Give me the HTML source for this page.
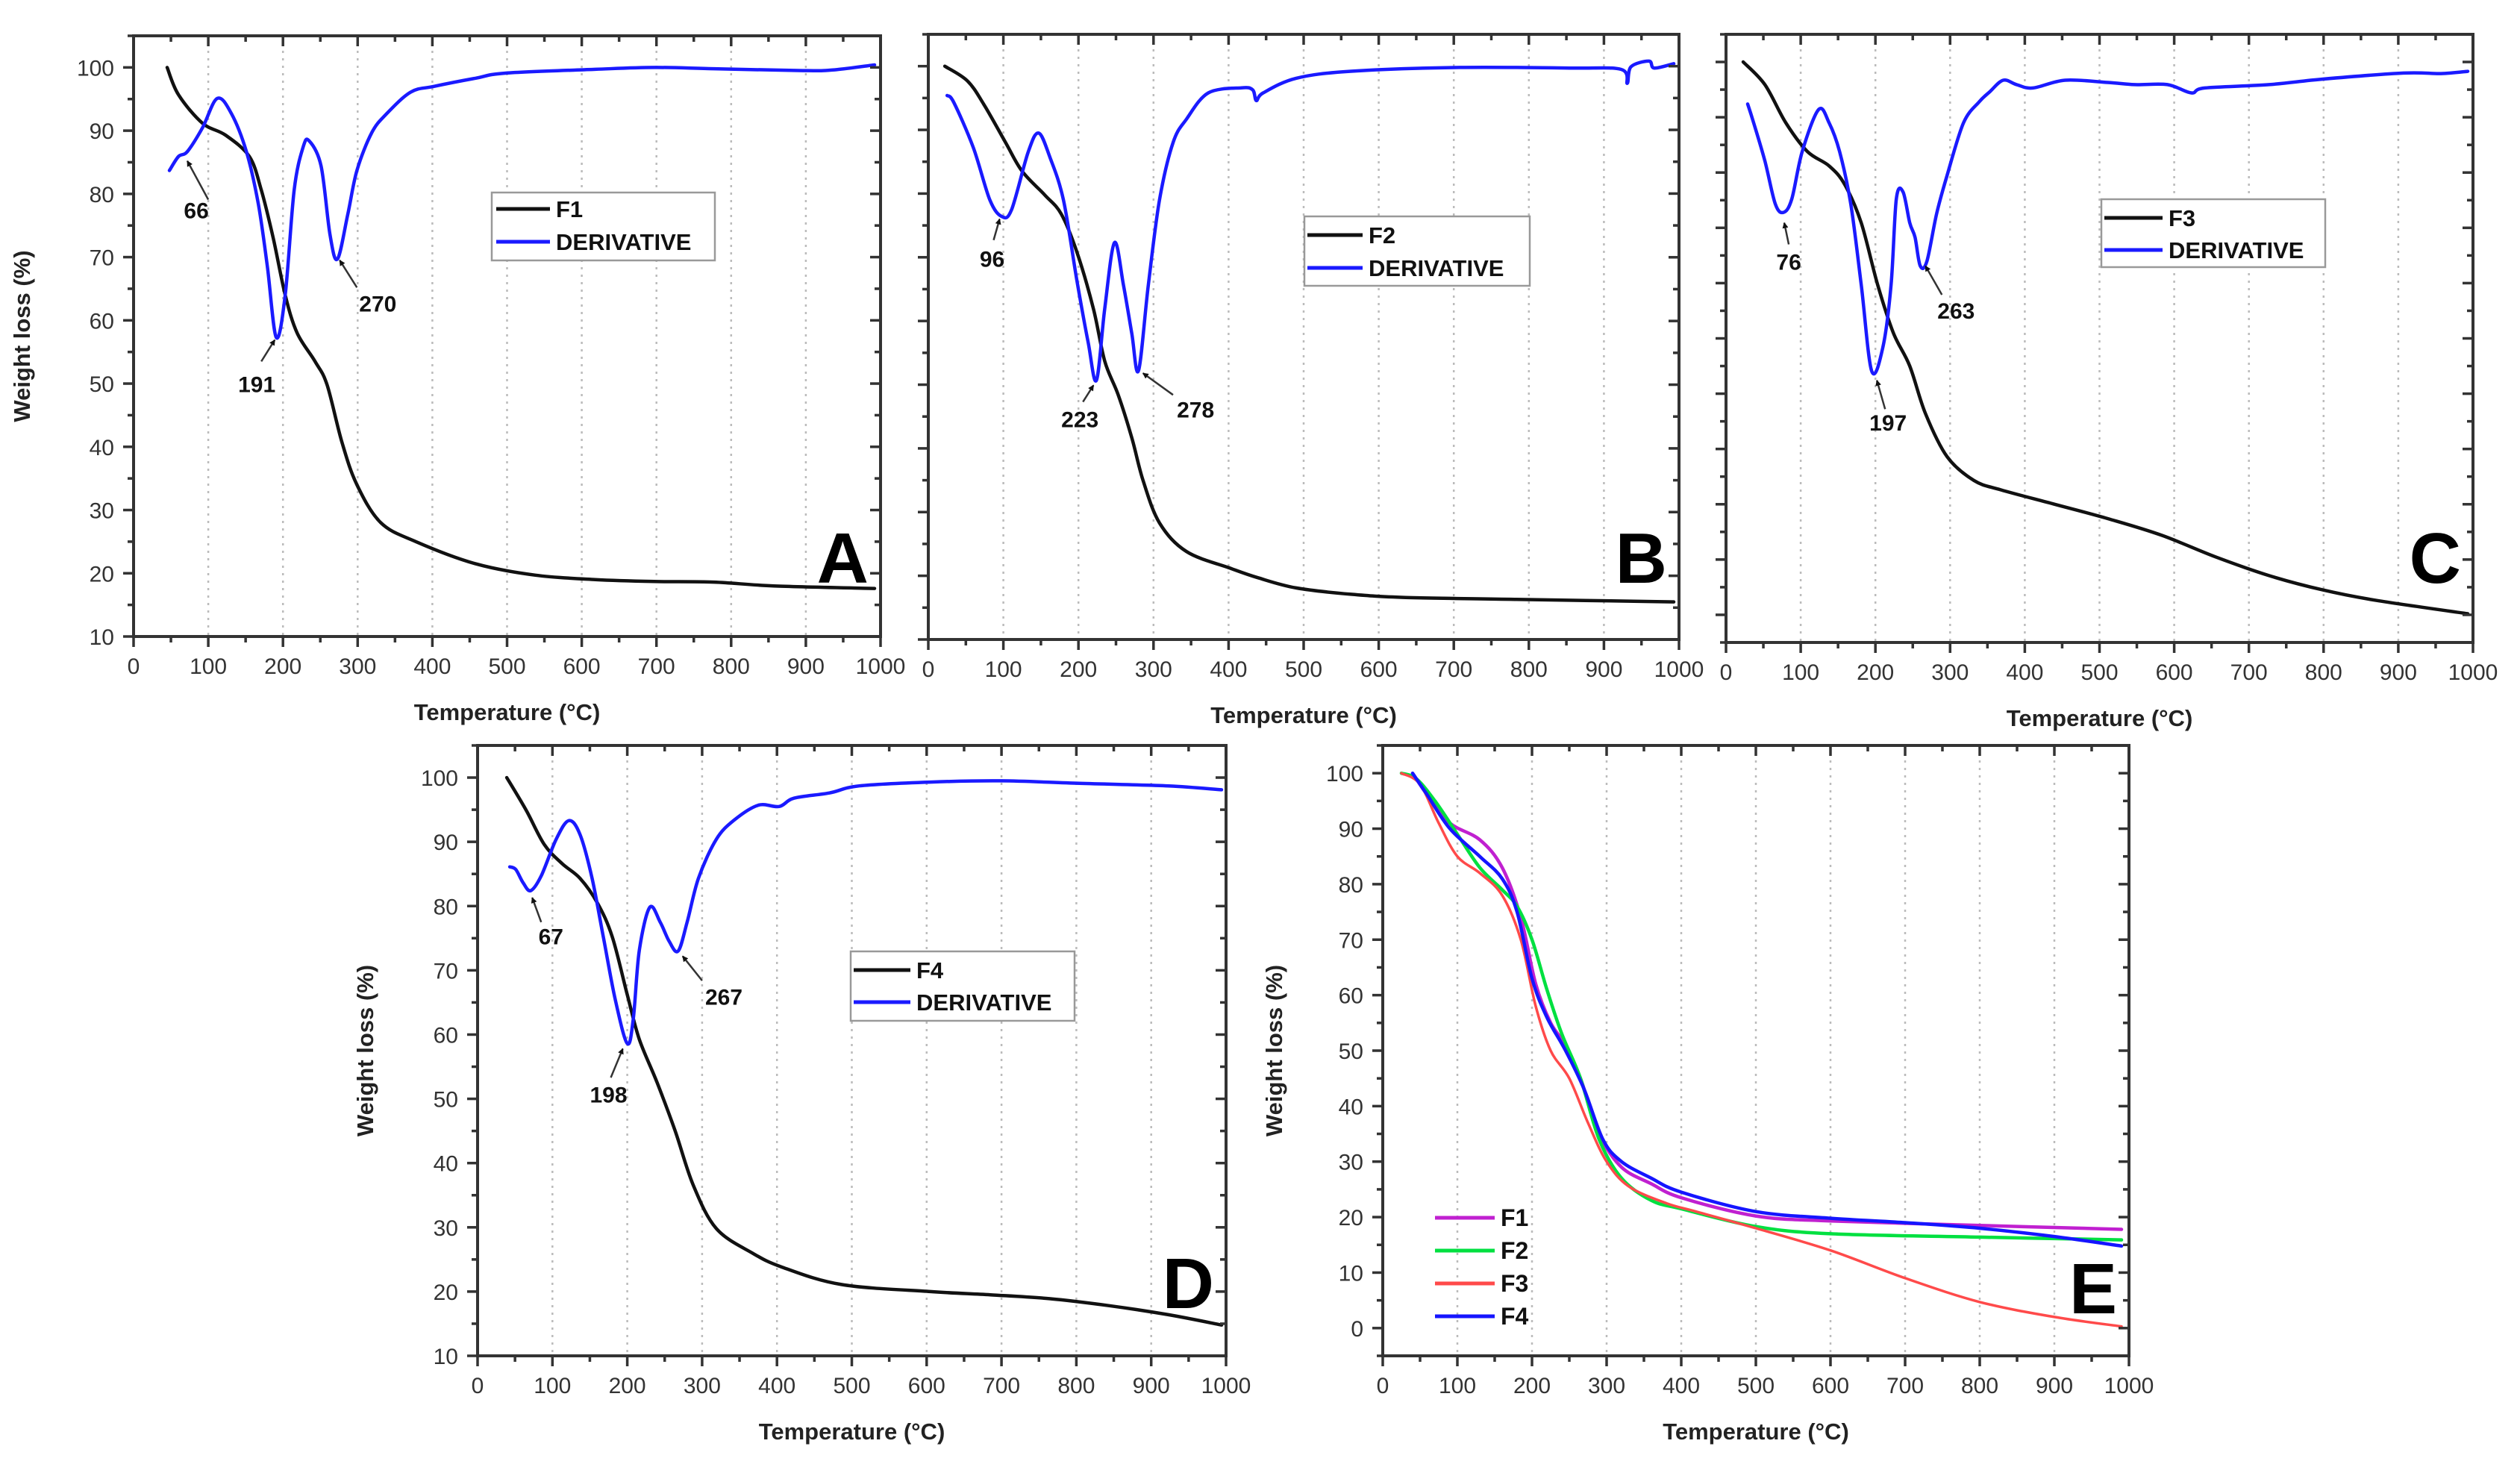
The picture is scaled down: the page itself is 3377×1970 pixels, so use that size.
<!DOCTYPE html>
<html><head><meta charset="utf-8"><style>
html,body{margin:0;padding:0;background:#fff;}
svg{display:block;font-family:"Liberation Sans",sans-serif;}
</style></head><body>
<svg id="fig" width="3377" height="1970" viewBox="0 0 3377 1970" xmlns="http://www.w3.org/2000/svg"></svg>
<script>
// ---- Panel A data ----
const aTgaT=[45,60,92,123,155,171,187,203,219,243,259,279,299,331,378,458,538,618,697,777,857,992];
const aTgaV=[100,95.7,91.2,89.3,85.9,80.6,73,64,58,53.5,49.8,40.7,34,28,25,21.5,19.7,19,18.7,18.6,18,17.6];
const aDerT=[48,60,72,92,112,131,151,167,179,191,203,215,227,235,251,263,273,287,299,319,339,371,402,458,498,618,697,777,896,936,992];
const aDerV=[83.7,85.9,86.7,90.4,95.1,92.7,86.7,78.4,68.6,57.3,64,80.6,87.4,88.4,84.4,73.5,69.7,76.9,83.7,89.7,92.7,96.1,97,98.3,99.1,99.7,100,99.8,99.5,99.6,100.4];
// ---- Panel B data ----
const bTgaT=[22,52,74,103,125,155,177,198,220,235,253,271,286,308,344,402,439,490,563,636,781,993];
const bTgaV=[100,97.7,94,88,83.5,79.8,76.8,70.8,61.9,53.7,48.4,41.7,35,28.3,23.8,21.2,19.7,18.1,17.1,16.6,16.3,15.9];
const bDerT=[25,34,60,82,98,111,133,147,162,180,198,213,224,235,248,260,271,280,293,308,326,344,373,417,432,437,446,490,563,708,854,923,931,936,960,967,993];
const bDerV=[95.4,94.3,87.2,79,76.4,77.5,86.5,89.5,85.7,79,66.3,56.6,50.7,61.9,72.3,65.6,58.1,52.2,65.6,79,88,91.7,95.8,96.6,96.3,94.6,95.8,98.1,99.2,99.8,99.7,99.5,97.3,99.9,100.8,99.7,100.4];
// ---- Panel C data ----
const cTgaT=[23,52,80,109,138,159,181,203,224,246,267,296,332,368,440,511,583,655,727,799,871,993];
const cTgaV=[100,95.9,89,83.8,81.2,77.8,70.9,59.7,51,45,36.4,28.6,24.3,22.6,20,17.4,14.4,10.5,7.1,4.5,2.6,0.2];
const cDerT=[29,37,52,66,77,88,102,124,138,152,167,181,195,210,221,228,237,246,253,260,269,282,296,318,339,353,371,389,411,454,511,547,591,623,641,727,799,907,957,993];
const cDerV=[92.4,89,82.1,74.3,72.8,75.2,83.8,91.4,89,83.8,74.3,59.7,44.1,48.4,59.7,75.2,76.5,70.9,68.3,63.1,64,72.6,79.5,89,92.8,94.6,96.7,95.9,95.3,96.7,96.3,95.9,95.9,94.4,95.3,95.9,96.9,98,97.9,98.3];
// ---- Panel D data ----
const dTgaT=[39,65,89,113,137,160,180,200,216,240,264,288,319,367,407,486,605,685,764,844,923,994];
const dTgaV=[100,94.9,89.6,86.6,84.3,80.5,75.2,66.2,59.3,52.5,45,36.6,29.8,26,23.8,21.1,20,19.5,18.9,17.8,16.4,14.8];
const dDerT=[43,51,61,71,85,105,122,137,153,168,184,200,208,216,230,244,256,268,280,295,319,343,375,403,423,470,510,605,700,804,923,994];
const dDerV=[86.1,85.7,83.6,82.4,84.7,90.4,93.3,91.1,84.3,75.2,65.4,58.6,62.4,73,79.8,77.5,74.5,73,77.5,84.3,90.4,93.4,95.7,95.5,96.8,97.6,98.7,99.3,99.5,99.1,98.7,98.1];
// ---- Panel E data ----
const eF1T=[40,60,90,130,160,185,205,225,245,265,290,320,360,400,500,600,800,990];
const eF1V=[100,96,91,88,83,74,62,55,51,45,35,29,26,23.5,20.2,19.3,18.5,17.8];
const eF2T=[25,45,70,100,130,160,180,200,220,240,265,290,320,360,400,500,600,800,990];
const eF2V=[100,99,95,89,83,79,76,70,61,53,45,34,27,23,21.5,18.3,17,16.4,15.9];
const eF3T=[25,50,75,100,130,160,185,205,225,250,275,300,330,380,420,500,600,700,800,900,990];
const eF3V=[100,98,91,85,82,78,70,58,50,45,37,30,25.5,22.5,21,18,14,9,4.7,2,0.3];
const eF4T=[40,60,90,130,160,180,200,220,245,270,295,320,360,400,500,600,700,800,900,990];
const eF4V=[100,96,90,85,81,75,63,56,50,43,34,30,27,24.5,21,19.8,19,18,16.5,14.8];
const xTicks=[0,100,200,300,400,500,600,700,800,900,1000];
const yTicksA=[10,20,30,40,50,60,70,80,90,100];
const yTicksE=[0,10,20,30,40,50,60,70,80,90,100];

const NS="http://www.w3.org/2000/svg";
const svg=document.getElementById('fig');
function mk(tag,attrs,parent,txt){const e=document.createElementNS(NS,tag);for(const k in attrs)e.setAttribute(k,attrs[k]);if(txt!==undefined)e.textContent=txt;(parent||svg).appendChild(e);return e;}
const defs=mk('defs',{});
const mrk=mk('marker',{id:'arr',markerWidth:'8',markerHeight:'8',refX:'7',refY:'4',orient:'auto',markerUnits:'userSpaceOnUse',viewBox:'0 0 8 8'},defs);


mk('path',{d:'M0,0 L8,4 L0,8 z',fill:'#111'},mrk);

function smooth(pts){
  let d='M'+pts[0][0].toFixed(1)+','+pts[0][1].toFixed(1);
  for(let i=0;i<pts.length-1;i++){
    const p0=pts[i-1]||pts[i],p1=pts[i],p2=pts[i+1],p3=pts[i+2]||p2;
    const c1=[p1[0]+(p2[0]-p0[0])/6,p1[1]+(p2[1]-p0[1])/6];
    const c2=[p2[0]-(p3[0]-p1[0])/6,p2[1]-(p3[1]-p1[1])/6];
    d+='C'+c1[0].toFixed(1)+','+c1[1].toFixed(1)+' '+c2[0].toFixed(1)+','+c2[1].toFixed(1)+' '+p2[0].toFixed(1)+','+p2[1].toFixed(1);
  }
  return d;
}

function panel(cfg){
  const g=mk('g',{});
  
  
  const L=cfg.L,R=cfg.R,T=cfg.T,B=cfg.B;
  const sx=v=>L+(v-0)/1000*(R-L);
  const sy=v=>B-(v-cfg.ymin)/(cfg.ymax-cfg.ymin)*(B-T);
  for(let i=1;i<xTicks.length-1;i++){
    const gl=mk('line',{x1:sx(xTicks[i]),x2:sx(xTicks[i]),y1:T,y2:B,stroke:'#bbb','stroke-width':2.5,'stroke-dasharray':'3,7'},g);
    
    
  }
  cfg.series.forEach(s=>{
    const pts=s.t.map((t,i)=>[sx(t),sy(s.v[i])]);
    const p=mk('path',{d:smooth(pts),fill:'none',stroke:s.color,'stroke-width':s.w||4.5,'stroke-linejoin':'round','stroke-linecap':'round'},g);
    
    
  });
  const fr=mk('rect',{x:L,y:T,width:R-L,height:B-T,fill:'none',stroke:'#333','stroke-width':4},g);
  
  
  for(let v=0;v<=1000;v+=50){
    const maj=v%100===0, len=maj?14:8;
    mk('line',{x1:sx(v),x2:sx(v),y1:B,y2:B+len,stroke:'#333','stroke-width':3.5},g);
    mk('line',{x1:sx(v),x2:sx(v),y1:T,y2:T+len,stroke:'#333','stroke-width':3.5},g);
  }
  xTicks.forEach(v=>{
    const t=mk('text',{x:sx(v),y:B+50,'font-size':30,fill:'#333','text-anchor':'middle'},g,String(v));
    
    
  });
  for(let v=cfg.ymin;v<=cfg.ymax;v+=5){
    const maj=(v%10===0), len=maj?14:8;
    mk('line',{x1:L-len,x2:L,y1:sy(v),y2:sy(v),stroke:'#333','stroke-width':3.5},g);
    mk('line',{x1:R-len,x2:R,y1:sy(v),y2:sy(v),stroke:'#333','stroke-width':3.5},g);
  }
  if(cfg.ylabels){
    cfg.yTicks.forEach(v=>{
      const t=mk('text',{x:L-26,y:sy(v)+11,'font-size':30,fill:'#333','text-anchor':'end'},g,String(v));
      
      
    });
    const yt=mk('text',{x:0,y:0,'font-size':31,'font-weight':'bold',fill:'#222','text-anchor':'middle',transform:`translate(${cfg.ytx},${(T+B)/2}) rotate(-90)`},g,'Weight loss (%)');
    
    
  }
  const xt=mk('text',{x:(L+R)/2,y:B+112,'font-size':31,'font-weight':'bold',fill:'#222','text-anchor':'middle'},g,'Temperature (°C)');
  
  
  const lt=mk('text',{x:R-16,y:B-cfg.letterOff,'font-size':96,'font-weight':'bold',fill:'#000','text-anchor':'end'},g,cfg.letter);
  
  
  (cfg.ann||[]).forEach(a=>{
    const ln=mk('line',{x1:sx(a.a[0]),y1:sy(a.a[1]),x2:sx(a.a[2]),y2:sy(a.a[3]),stroke:'#333','stroke-width':2.5,'marker-end':'url(#arr)'},g);
    
    
    const t=mk('text',{x:sx(a.tx),y:sy(a.tv)+10,'font-size':30,'font-weight':'bold',fill:'#111','text-anchor':'middle'},g,a.label);
    
    
  });
  if(cfg.legend){
    const lg=cfg.legend;
    const lgG=mk('g',{},g);
    
    
    if(lg.box) mk('rect',{x:lg.box[0],y:lg.box[1],width:lg.box[2],height:lg.box[3],fill:'#fff',stroke:'#999','stroke-width':2.5},lgG);
    lg.items.forEach((it,i)=>{
      const y=lg.y0+i*lg.dy;
      const l=mk('line',{x1:lg.x0,x2:lg.x0+lg.len,y1:y,y2:y,stroke:it.color,'stroke-width':5},lgG);
      
      
      const t=mk('text',{x:lg.x0+lg.len+8,y:y+11,'font-size':lg.fs||31,'font-weight':'bold',fill:'#111'},lgG,it.label);
      
      
    });
  }
}
const BLK='#111',BLU='#1a1aff';
panel({name:'panel-a',L:179,R:1180,T:48,B:853,ymin:10,ymax:105,yTicks:yTicksA,ylabels:true,ytx:40,letter:'A',letterOff:72,
 series:[{name:'f1-tga-line',t:aTgaT,v:aTgaV,color:BLK},{name:'f1-derivative-line',t:aDerT,v:aDerV,color:BLU}],
 ann:[{label:'66',tx:84,tv:77.3,a:[100,79.1,72,85.2]},{label:'191',tx:165,tv:49.8,a:[171,53.5,189,56.9]},{label:'270',tx:327,tv:62.6,a:[299,65.2,276,69.5]}],
 legend:{box:[659,258,299,91],x0:665,y0:280,dy:44,len:72,items:[{label:'F1',color:BLK},{label:'DERIVATIVE',color:BLU}]}});
panel({name:'panel-b',L:1244,R:2250,T:46,B:857,ymin:10,ymax:105,yTicks:yTicksA,ylabels:false,letter:'B',letterOff:76,
 series:[{name:'f2-tga-line',t:bTgaT,v:bTgaV,color:BLK},{name:'f2-derivative-line',t:bDerT,v:bDerV,color:BLU}],
 ann:[{label:'96',tx:85,tv:69.7,a:[87,72.7,95,76]},{label:'223',tx:202,tv:44.5,a:[206,47.3,220,49.9]},{label:'278',tx:356,tv:46,a:[326,48.4,286,51.8]}],
 legend:{box:[1748,290,302,93],x0:1752,y0:315,dy:44,len:74,items:[{label:'F2',color:BLK},{label:'DERIVATIVE',color:BLU}]}});
panel({name:'panel-c',L:2313,R:3314,T:46,B:861,ymin:-5,ymax:105,yTicks:yTicksE,ylabels:false,letter:'C',letterOff:80,
 series:[{name:'f3-tga-line',t:cTgaT,v:cTgaV,color:BLK},{name:'f3-derivative-line',t:cDerT,v:cDerV,color:BLU}],
 ann:[{label:'76',tx:84,tv:63.8,a:[84,67,78,70.9]},{label:'197',tx:217,tv:34.7,a:[213,37.2,202,42.4]},{label:'263',tx:308,tv:54.9,a:[289,57.9,267,63.1]}],
 legend:{box:[2816,267,300,91],x0:2820,y0:292,dy:43,len:78,items:[{label:'F3',color:BLK},{label:'DERIVATIVE',color:BLU}]}});
panel({name:'panel-d',L:640,R:1643,T:999,B:1817,ymin:10,ymax:105,yTicks:yTicksA,ylabels:true,ytx:500,letter:'D',letterOff:64,
 series:[{name:'f4-tga-line',t:dTgaT,v:dTgaV,color:BLK},{name:'f4-derivative-line',t:dDerT,v:dDerV,color:BLU}],
 ann:[{label:'67',tx:98,tv:75.2,a:[85,77.5,73,81.3]},{label:'198',tx:175,tv:50.6,a:[178,53.3,194,57.8]},{label:'267',tx:329,tv:65.8,a:[300,68.4,274,72.2]}],
 legend:{box:[1140,1275,300,93],x0:1144,y0:1300,dy:43,len:76,items:[{label:'F4',color:BLK},{label:'DERIVATIVE',color:BLU}]}});
panel({name:'panel-e',L:1853,R:2853,T:999,B:1817,ymin:-5,ymax:105,yTicks:yTicksE,ylabels:true,ytx:1718,letter:'E',letterOff:57,
 series:[{name:'f1-line',t:eF1T,v:eF1V,color:'#c020d0'},{name:'f2-line',t:eF2T,v:eF2V,color:'#00e040'},{name:'f3-line',t:eF3T,v:eF3V,color:'#ff4a4a',w:3.5},{name:'f4-line',t:eF4T,v:eF4V,color:'#1515ff'}],
 legend:{x0:1923,y0:1632,dy:44,len:80,fs:32,items:[{label:'F1',color:'#c020d0'},{label:'F2',color:'#00e040'},{label:'F3',color:'#ff4a4a'},{label:'F4',color:'#1515ff'}]}});
</script>
</body></html>
